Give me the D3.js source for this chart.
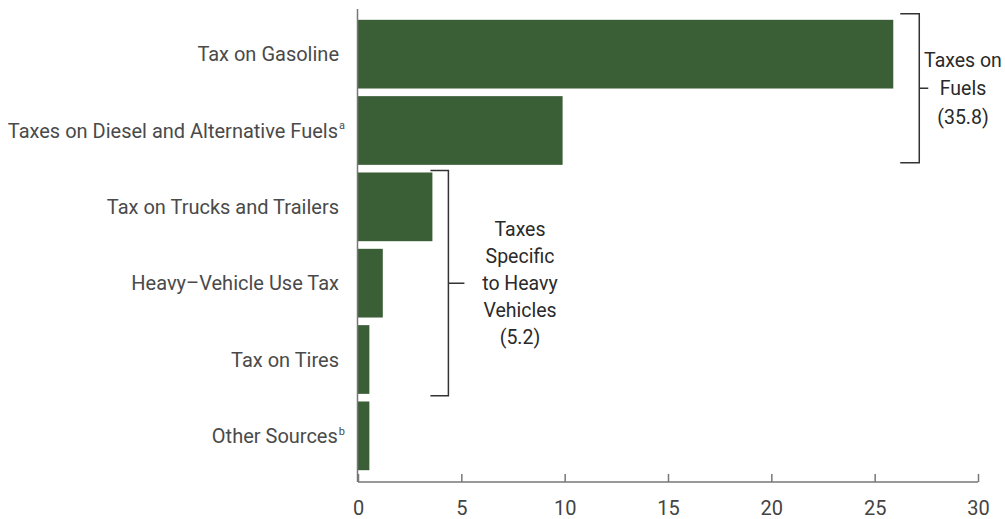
<!DOCTYPE html>
<html><head><meta charset="utf-8">
<script src="https://cdn.jsdelivr.net/npm/d3@7"></script>
<style>body{margin:0;background:#fff;} text{font-family:Roboto, "Noto Sans", sans-serif;}</style>
</head><body>
<svg id="chart" width="1005" height="519"></svg>
<script>
const categories = ["Tax on Gasoline","Taxes on Diesel and Alternative Fuels","Tax on Trucks and Trailers","Heavy\u2013Vehicle Use Tax","Tax on Tires","Other Sources"];
const superscripts = ["","a","","","","b"];
const values = [25.9, 9.9, 3.6, 1.2, 0.55, 0.55];
const xTicks = [0,5,10,15,20,25,30];
const groups = [
  {label:["Taxes on","Fuels","(35.8)"], first:0, last:1},
  {label:["Taxes","Specific","to Heavy","Vehicles","(5.2)"], first:2, last:4}
];

const svg = d3.select("#chart");
const x = d3.scaleLinear().domain([0,30]).range([358,978]);
const y = d3.scaleBand().domain(categories).range([16,474]).paddingInner(0.1).paddingOuter(0.05);
const axisY = 482;

// bars
svg.append("g").selectAll("rect").data(values).join("rect")
  .attr("x", x(0)).attr("y",(d,i)=>y(categories[i]))
  .attr("width", d=>x(d)-x(0)).attr("height", y.bandwidth())
  .attr("fill","#3a5e36");

// x axis
const xa = svg.append("g").attr("transform",`translate(0,${axisY})`)
  .call(d3.axisBottom(x).tickValues(xTicks).tickSize(-8).tickPadding(19).tickFormat(d3.format("d")));
xa.select(".domain").attr("stroke","#777").attr("stroke-width",1.5).attr("d",`M${x(0)},0H${x(30)}`);
xa.selectAll(".tick line").attr("stroke","#777").attr("stroke-width",1.5);
xa.selectAll(".tick text").attr("font-size",20).attr("fill","#444").attr("font-family","Roboto, sans-serif");

// y axis line
svg.append("line").attr("x1",x(0)-0.5).attr("x2",x(0)-0.5).attr("y1",9).attr("y2",axisY)
  .attr("stroke","#777").attr("stroke-width",1.5);

// category labels
const lab = svg.append("g").selectAll("text").data(categories).join("text")
  .attr("x",339).attr("y",d=>y(d)+y.bandwidth()/2).attr("dy","0.35em")
  .attr("text-anchor","end").attr("font-size",20).attr("fill","#4a4a4a");
lab.append("tspan").text(d=>d);
lab.append("tspan").text((d,i)=>superscripts[i]).attr("font-size",11).attr("dy","-0.75em").attr("dx",1);
lab.filter((d,i)=>superscripts[i]!=="").attr("x",345);

// brackets
function bracket(x0, xv, xt, top, bottom, lines, tx, lh){
  const mid=(top+bottom)/2;
  svg.append("path").attr("d",`M${x0},${top}H${xv}V${bottom}H${x0}M${xv},${mid}H${xt}`)
    .attr("fill","none").attr("stroke","#333").attr("stroke-width",1.5);
  const t = svg.append("text").attr("text-anchor","middle").attr("font-size",19.5).attr("fill","#2a2a2a");
  lines.forEach((l,i)=>{
    t.append("tspan").attr("x",tx).attr("y",mid+(i-(lines.length-1)/2)*lh).attr("dy","0.35em").text(l);
  });
}
const g0=groups[0], g1=groups[1];
bracket(x(values[0])+7, x(values[0])+26, x(values[0])+35,
  y(categories[g0.first])-6, y(categories[g0.last])+y.bandwidth()-2, g0.label, 963, 28.5);
bracket(x(values[2])-2, x(values[2])+16, x(values[2])+32,
  y(categories[g1.first])-2, y(categories[g1.last])+y.bandwidth()+2, g1.label, 520, 26.8);
</script>
</body></html>
